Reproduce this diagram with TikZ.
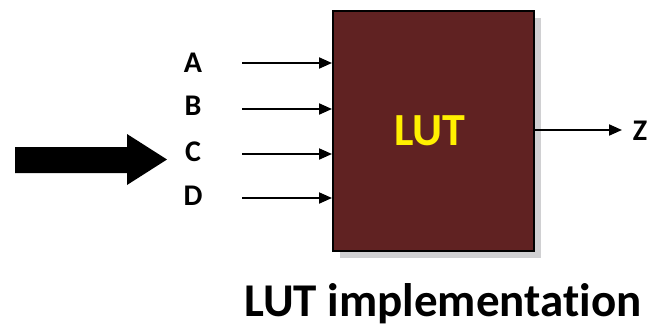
\documentclass[tikz,border=0pt]{standalone}
\usepackage{fontspec}
\setmainfont{Carlito}[Ligatures=NoCommon]
\usetikzlibrary{arrows.meta}
\definecolor{lutfill}{RGB}{96,34,34}
\definecolor{lutshadow}{RGB}{208,208,210}
\definecolor{lutyellow}{RGB}{255,240,0}
\tikzset{
  sig/.style={draw=black, line width=2pt, -{Triangle[length=13pt,width=11pt]}},
  lbl/.style={font=\fontsize{30}{32}\selectfont\bfseries, text=black, inner sep=0pt},
}
\begin{document}
\begin{tikzpicture}[x=1pt,y=-1pt]
  \useasboundingbox (0,0) rectangle (658,327);
  % shadow and LUT block
  \fill[lutshadow] (340,18) rectangle (541,258);
  \node[draw=black, line width=2pt, fill=lutfill, minimum width=201pt, minimum height=240pt,
        inner sep=0pt, anchor=north west] (lut) at (332,10) {};
  \node[font=\fontsize{46}{48}\selectfont\bfseries, text=lutyellow] (name) at (430,131) {LUT};
  % inputs
  \node[lbl] (A) at (193,63) {A};
  \node[lbl] (B) at (193,106) {B};
  \node[lbl] (C) at (193,152) {C};
  \node[lbl] (D) at (193,196) {D};
  \coordinate (a0) at (242,63);
  \coordinate (b0) at (242,109);
  \coordinate (c0) at (242,154);
  \coordinate (d0) at (242,198);
  \draw[sig] (a0) -- (a0 -| lut.west);
  \draw[sig] (b0) -- (b0 -| lut.west);
  \draw[sig] (c0) -- (c0 -| lut.west);
  \draw[sig] (d0) -- (d0 -| lut.west);
  % output
  \node[lbl] (Z) at (640,131) {Z};
  \coordinate (z0) at (lut.east |- 0,130);
  \draw[sig] (z0) -- (622,130);
  % bold pointer towards C
  \fill[black] (15,147) -- (127,147) -- (127,134) -- (167,159.5) -- (127,185) -- (127,173) -- (15,173) -- cycle;
  % caption
  \node[font=\fontsize{47}{49}\selectfont\bfseries, anchor=base] (cap) at (443,316) {LUT implementation};
\end{tikzpicture}
\end{document}
